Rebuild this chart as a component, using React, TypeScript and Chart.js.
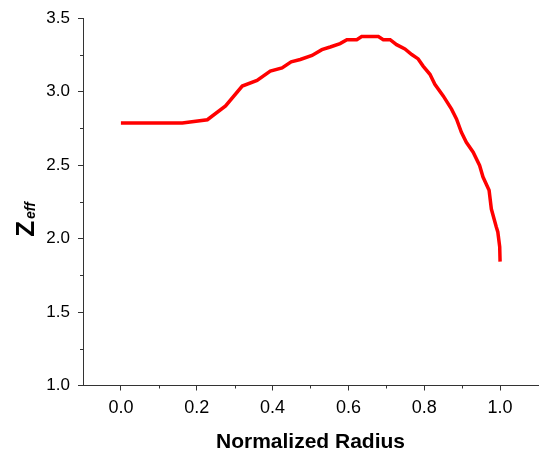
import React, { useEffect, useRef } from "react";
import { Chart, registerables } from "chart.js";

Chart.register(...registerables);

const radius = [
  0.0, 0.162, 0.228, 0.276, 0.32, 0.359, 0.394, 0.425, 0.449, 0.473, 0.504, 0.53, 0.552,
  0.578, 0.596, 0.622, 0.635, 0.679, 0.692, 0.71, 0.727, 0.749, 0.767, 0.784, 0.797, 0.815,
  0.828, 0.85, 0.872, 0.885, 0.898, 0.911, 0.929, 0.946, 0.955, 0.971, 0.977, 0.99, 0.994,
  0.999, 1.0,
];
const zeff = [
  2.786, 2.786, 2.809, 2.903, 3.038, 3.077, 3.14, 3.162, 3.203, 3.219, 3.246, 3.286, 3.304,
  3.327, 3.354, 3.354, 3.376, 3.376, 3.354, 3.354, 3.32, 3.291, 3.253, 3.223, 3.174, 3.118,
  3.05, 2.971, 2.881, 2.814, 2.723, 2.655, 2.588, 2.498, 2.419, 2.329, 2.201, 2.079, 2.045,
  1.944, 1.843,
];
const xMajorTicks = [0.0, 0.2, 0.4, 0.6, 0.8, 1.0];
const xMinorTicks = [0.1, 0.3, 0.5, 0.7, 0.9];
const yMajorTicks = [1.0, 1.5, 2.0, 2.5, 3.0, 3.5];
const yMinorTicks = [1.25, 1.75, 2.25, 2.75, 3.25];
const xTitle = "Normalized Radius";
const yTitleMain = "Z";
const yTitleSub = "eff";

const FONT = '"Liberation Sans", Arial, Helvetica, sans-serif';
const AXIS_COLOR = "#333333";

const extrasPlugin = {
  id: "extras",
  afterDraw(chart: any) {
    const ctx = chart.ctx;
    const xs = chart.scales.x;
    const ys = chart.scales.y;
    ctx.save();
    ctx.strokeStyle = AXIS_COLOR;
    ctx.lineWidth = 1;
    ctx.beginPath();
    for (const v of xMinorTicks) {
      const px = Math.round(xs.getPixelForValue(v)) + 0.5;
      const py = ys.bottom;
      ctx.moveTo(px, py);
      ctx.lineTo(px, py + 3);
    }
    for (const v of yMinorTicks) {
      const py = Math.round(ys.getPixelForValue(v)) + 0.5;
      const px = xs.left;
      ctx.moveTo(px, py);
      ctx.lineTo(px - 3, py);
    }
    ctx.stroke();

    // y-axis title with subscript
    const cy = (ys.top + ys.bottom) / 2;
    ctx.translate(33.5, cy + 35);
    ctx.rotate(-Math.PI / 2);
    ctx.fillStyle = "#000";
    ctx.textBaseline = "alphabetic";
    ctx.textAlign = "left";
    ctx.font = `bold 26px ${FONT}`;
    ctx.fillText(yTitleMain, 0, 0);
    const zw = ctx.measureText(yTitleMain).width;
    ctx.font = `italic bold 14px ${FONT}`;
    ctx.fillText(yTitleSub, zw + 2, 1);
    ctx.restore();
  },
};

export default function App() {
  const ref = useRef<HTMLCanvasElement | null>(null);

  useEffect(() => {
    if (!ref.current) return;
    const points = radius.map((r, i) => ({ x: r, y: zeff[i] }));
    const chart = new Chart(ref.current, {
      type: "line",
      data: {
        datasets: [
          {
            data: points,
            borderColor: "#ff0000",
            borderWidth: 3.5,
            pointRadius: 0,
            tension: 0,
            fill: false,
          },
        ],
      },
      options: {
        animation: false,
        responsive: true,
        maintainAspectRatio: false,
        layout: { padding: { left: 0, top: 17.5, right: 5, bottom: 0 } },
        plugins: {
          legend: { display: false },
          tooltip: { enabled: false },
        },
        scales: {
          x: {
            type: "linear",
            min: -0.1,
            max: 1.1,
            afterBuildTicks: (scale: any) => {
              scale.ticks = xMajorTicks.map((v) => ({ value: v }));
            },
            afterFit: (scale: any) => {
              scale.height = 69.5;
            },
            ticks: {
              color: "#000",
              font: { family: FONT, size: 18 },
              padding: 7,
              maxRotation: 0,
              callback: (v: any) => Number(v).toFixed(1),
            },
            grid: {
              drawOnChartArea: false,
              drawTicks: true,
              tickLength: 5,
              color: AXIS_COLOR,
              lineWidth: 1,
            },
            border: { display: true, color: AXIS_COLOR, width: 1 },
            title: {
              display: true,
              text: xTitle,
              color: "#000",
              font: { family: FONT, size: 21, weight: "bold" },
              padding: { top: 8, bottom: 0 },
            },
          },
          y: {
            type: "linear",
            min: 1.0,
            max: 3.5,
            afterBuildTicks: (scale: any) => {
              scale.ticks = yMajorTicks.map((v) => ({ value: v }));
            },
            afterFit: (scale: any) => {
              scale.width = 83;
            },
            ticks: {
              color: "#000",
              font: { family: FONT, size: 17 },
              padding: 8,
              callback: (v: any) => Number(v).toFixed(1),
            },
            grid: {
              drawOnChartArea: false,
              drawTicks: true,
              tickLength: 5,
              color: AXIS_COLOR,
              lineWidth: 1,
            },
            border: { display: true, color: AXIS_COLOR, width: 1 },
          },
        },
      },
      plugins: [extrasPlugin],
    });
    return () => chart.destroy();
  }, []);

  return (
    <div style={{ position: "fixed", left: 0, top: 0, width: 543, height: 455, background: "#fff" }}>
      <canvas ref={ref} />
    </div>
  );
}
